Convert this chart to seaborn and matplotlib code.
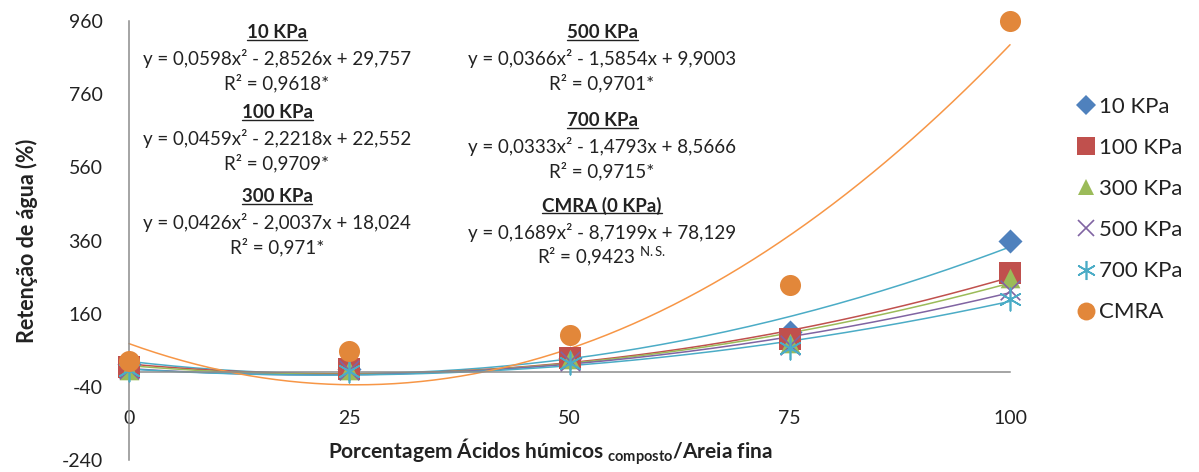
import numpy as np
import pandas as pd
import seaborn as sns
import matplotlib
matplotlib.use("Agg")
from matplotlib import pyplot as plt
from matplotlib.lines import Line2D

# data
x_levels = [0, 25, 50, 75, 100]
series = ["10 KPa", "100 KPa", "300 KPa", "500 KPa", "700 KPa", "CMRA"]
kpa10 = [22, 10, 40, 110, 360]
kpa100 = [15, 8, 40, 90, 272]
kpa300 = [5, 5, 35, 80, 258]
kpa500 = [10, 5, 30, 75, 225]
kpa700 = [5, 3, 25, 65, 200]
cmra = [32, 58, 102, 238, 960]

# quadratic trend coefficients (a, b, c) as printed on the chart
coef10 = [0.0598, -2.8526, 29.757]
coef100 = [0.0459, -2.2218, 22.552]
coef300 = [0.0426, -2.0037, 18.024]
coef500 = [0.0366, -1.5854, 9.9003]
coef700 = [0.0333, -1.4793, 8.5666]
coefcmra = [0.1689, -8.7199, 78.129]

labels_eq = [
    ("10 KPa", "y = 0,0598x² - 2,8526x + 29,757", "R² = 0,9618*"),
    ("100 KPa", "y = 0,0459x² - 2,2218x + 22,552", "R² = 0,9709*"),
    ("300 KPa", "y = 0,0426x² - 2,0037x + 18,024", "R² = 0,971*"),
    ("500 KPa", "y = 0,0366x² - 1,5854x + 9,9003", "R² = 0,9701*"),
    ("700 KPa", "y = 0,0333x² - 1,4793x + 8,5666", "R² = 0,9715*"),
    ("CMRA (0 KPa)", "y = 0,1689x² - 8,7199x + 78,129", r"R² = 0,9423 $^{\mathregular{N.S.}}$"),
]

sns.set_style("white")
plt.rcParams["font.family"] = ["Lato", "DejaVu Sans"]
plt.rcParams["mathtext.default"] = "regular"
plt.rcParams["axes.unicode_minus"] = False

values = [kpa10, kpa100, kpa300, kpa500, kpa700, cmra]
df = pd.DataFrame({
    "x": np.tile(x_levels, len(series)),
    "y": np.concatenate(values),
    "serie": np.repeat(series, len(x_levels)),
})

marker_col = {"10 KPa": "#4F81BD", "100 KPa": "#C0504D", "300 KPa": "#9BBB59",
              "500 KPa": "#8064A2", "700 KPa": "#4BACC6", "CMRA": "#E2873A"}
line_col = {"10 KPa": "#4BACC6", "100 KPa": "#C0504D", "300 KPa": "#9BBB59",
            "500 KPa": "#8064A2", "700 KPa": "#4BACC6", "CMRA": "#F79646"}
markers = {"10 KPa": "D", "100 KPa": "s", "300 KPa": "^",
           "500 KPa": "x", "700 KPa": (6, 2, 0), "CMRA": "o"}
sizes = {"10 KPa": 150, "100 KPa": 230, "300 KPa": 200,
         "500 KPa": 200, "700 KPa": 260, "CMRA": 230}

fig = plt.figure(figsize=(11.99, 4.72), dpi=100)
ax = fig.add_axes([0.1076, 0.0254, 0.7348, 0.9301])

# trend lines
xs = np.linspace(0, 100, 200)
coefs = [coef10, coef100, coef300, coef500, coef700, coefcmra]
for name, c in zip(series, coefs):
    ax.plot(xs, np.polyval(c, xs), color=line_col[name], lw=1.1, zorder=2, clip_on=False)

# points
for name in series:
    sub = df[df["serie"] == name]
    filled = name not in ("500 KPa", "700 KPa")
    sns.scatterplot(data=sub, x="x", y="y", ax=ax, marker=markers[name],
                    s=sizes[name], color=marker_col[name],
                    linewidth=0 if filled else 1.2, zorder=3, clip_on=False,
                    legend=False)

ax.set_xlim(0, 100)
ax.set_ylim(-240, 960)
ax.set_xticks(x_levels)
ax.set_yticks([-240, -40, 160, 360, 560, 760, 960])
ax.spines["bottom"].set_position(("data", 0))
ax.spines["top"].set_visible(False)
ax.spines["right"].set_visible(False)
for sp in ("left", "bottom"):
    ax.spines[sp].set_color("#8c8c8c")
    ax.spines[sp].set_linewidth(1.1)
ax.tick_params(axis="both", colors="#8c8c8c", labelcolor="#222222",
               labelsize=14, length=7, width=1.1, direction="out")
ax.tick_params(axis="x", pad=20)
ax.tick_params(axis="y", pad=12)
ax.set_xlabel("")
ax.set_ylabel("")

fig.text(27 / 1199, 1 - 241 / 472, "Retenção de água (%)", rotation=90,
         ha="center", va="center", fontsize=15.5, fontweight="bold", color="#222222")
fig.text(550 / 1199, 1 - 452 / 472,
         r"Porcentagem Ácidos húmicos $_{\mathregular{composto}}$/Areia fina",
         ha="center", va="center", fontsize=15, fontweight="bold", color="#222222")

# equation blocks
col_x = [277, 277, 277, 602, 602, 602]
head_y = [33, 113, 197, 33, 121, 206]
heads = []
for (head, eq, r2), cx, hy in zip(labels_eq, col_x, head_y):
    t = fig.text(cx / 1199, 1 - hy / 472, head, ha="center", va="center",
                 fontsize=13.5, fontweight="bold", color="#222222")
    heads.append(t)
    fig.text(cx / 1199, 1 - (hy + 26) / 472, eq, ha="center", va="center",
             fontsize=13.5, color="#222222")
    fig.text(cx / 1199, 1 - (hy + 50) / 472, r2, ha="center", va="center",
             fontsize=13.5, color="#222222")

# underline the headers
fig.canvas.draw()
inv = fig.transFigure.inverted()
for t in heads:
    bb = t.get_window_extent().transformed(inv)
    fig.add_artist(Line2D([bb.x0, bb.x1], [bb.y0 + 0.004, bb.y0 + 0.004],
                          transform=fig.transFigure, color="#222222", lw=1))

# legend
handles = []
for name in series:
    filled = name not in ("500 KPa", "700 KPa")
    handles.append(Line2D([], [], ls="none", marker=markers[name],
                          markersize=np.sqrt(sizes[name]) * 0.85,
                          color=marker_col[name],
                          markeredgewidth=0 if filled else 1.2, label=name))
fig.legend(handles=handles, loc="upper left", bbox_to_anchor=(1066 / 1199, 1 - 88 / 472),
           frameon=False, fontsize=16, labelspacing=0.95, handletextpad=0.1,
           handlelength=1.0, borderaxespad=0, borderpad=0.4, labelcolor="#222222")

fig.savefig("out.png", dpi=100)
